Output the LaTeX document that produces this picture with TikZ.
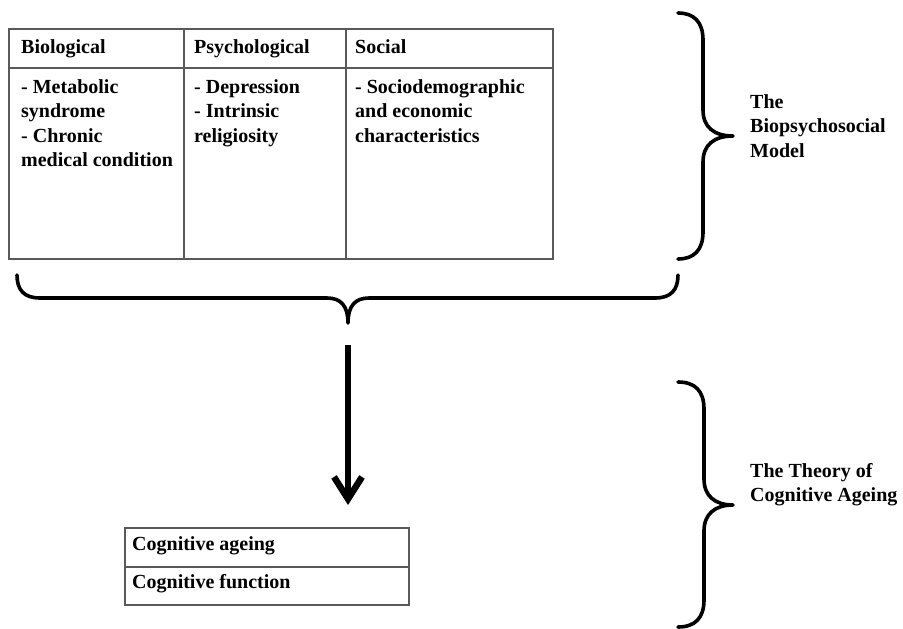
\documentclass[tikz,border=0pt]{standalone}
\usepackage{fontspec}
\setmainfont{Liberation Serif}
\usetikzlibrary{arrows.meta}
\begin{document}
\begin{tikzpicture}[x=1pt,y=-1pt,
  every node/.style={font=\fontsize{20}{24.5}\selectfont\bfseries, inner sep=0pt, anchor=north west, align=left},
  grid/.style={draw=black!65, line width=1.2pt},
  bracepath/.style={draw=black, line width=3.6pt, line cap=round, line join=round},
  bigarrow/.style={draw=black, line width=6.5pt, -{Straight Barb[length=22pt,width=28pt]}}
]
\useasboundingbox (0,0) rectangle (903,629);
\fill[white] (0,0) rectangle (903,629);

% ---- table ----
\draw[grid] (9,29) rectangle (553,259);
\draw[grid] (9,68) -- (553,68);
\draw[grid] (184,29) -- (184,259);
\draw[grid] (346,29) -- (346,259);

\newcommand{\fl}{\rule{0pt}{15pt}}
\node (hbio) at (21,38) {\fl Biological};
\node (hpsy) at (194,38) {\fl Psychological};
\node (hsoc) at (355,38) {\fl Social};

\node (bbio) at (21,78) {\fl - Metabolic\\syndrome\\- Chronic\\medical condition};
\node (bpsy) at (194,78) {\fl - Depression\\- Intrinsic\\religiosity};
\node (bsoc) at (355,78) {\fl - Sociodemographic\\and economic\\characteristics};

% ---- horizontal brace under the table ----
\coordinate (hbtip) at (348,323);
\draw[bracepath] (17,275) .. controls (17,290) and (24,298) .. (40,298) -- (327,298)
  .. controls (341,298) and (348,306) .. (hbtip)
  .. controls (348,306) and (355,298) .. (369,298) -- (655,298)
  .. controls (671,298) and (678,290) .. (678,275);

% ---- right brace: biopsychosocial ----
\draw[bracepath] (678,13) .. controls (694,13) and (703,22) .. (703,40) -- (703,110)
  .. controls (703,127) and (714,136) .. (733,136)
  .. controls (714,136) and (703,145) .. (703,162) -- (703,232)
  .. controls (703,250) and (694,259) .. (678,259);
\node (bps) at (750,93) {\fl The\\Biopsychosocial\\Model};

% ---- right brace: cognitive ageing ----
\draw[bracepath] (678,382) .. controls (695,382) and (704,391) .. (704,409) -- (704,479)
  .. controls (704,496) and (715,505) .. (733,505)
  .. controls (715,505) and (704,514) .. (704,531) -- (704,600)
  .. controls (704,618) and (695,627) .. (678,627);
\node (tca) at (750,462) {\fl The Theory of\\Cognitive Ageing};

% ---- cognitive box ----
\draw[grid] (125,528) rectangle (409,605);
\draw[grid] (125,567) -- (409,567);
\node (cage) at (132,535) {\fl Cognitive ageing};
\node (cfun) at (132,573) {\fl Cognitive function};

% ---- arrow ----
\coordinate (arrs) at (348,345);
\coordinate (arre) at (348,505);
\draw[bigarrow] (arrs) -- (arre);
\end{tikzpicture}
\end{document}
